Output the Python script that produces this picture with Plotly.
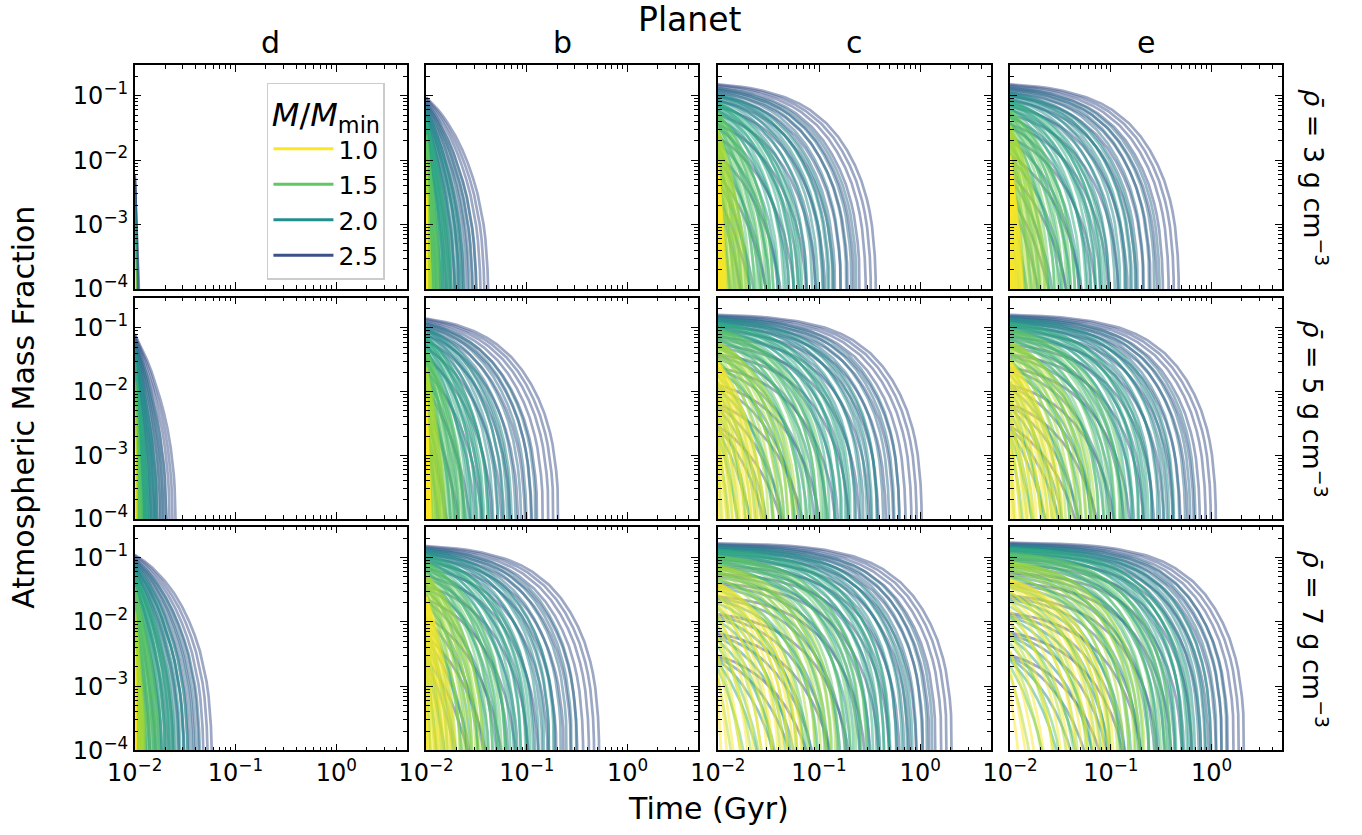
import plotly.graph_objects as go
from plotly.subplots import make_subplots
from plotly.colors import sample_colorscale

# ---------------- data ----------------
PLANETS = ["d", "b", "c", "e"]
DENSITIES = [3, 5, 7]
MASS_RATIOS = [1.0, 1.25, 1.5, 1.75, 2.0, 2.25, 2.5]
LEGEND_MASSES = [1.0, 1.5, 2.0, 2.5]
T_START = 0.01  # Gyr, left edge of every curve

X_TICKS = [0.01, 0.1, 1]
X_TICK_TEXT = ["10<sup>\u22122</sup>", "10<sup>\u22121</sup>", "10<sup>0</sup>"]
Y_TICKS = [1e-4, 1e-3, 1e-2, 1e-1]
Y_TICK_TEXT = ["10<sup>\u22124</sup>", "10<sup>\u22123</sup>", "10<sup>\u22122</sup>",
               "10<sup>\u22121</sup>"]

# normalised decay profile (rho=3, c)
PROFILE_TAU = [0, 0.001, 0.002, 0.005, 0.01, 0.02, 0.03, 0.05, 0.1, 0.15, 0.2,
               0.3, 0.4, 0.5, 0.6, 0.7, 0.8, 0.85, 0.9, 0.93, 0.96, 0.98, 0.99, 1.0]
PROFILE_FRAC = [1.0, 0.995, 0.991, 0.977, 0.955, 0.913, 0.872, 0.796, 0.632, 0.502, 0.398,
                0.250, 0.155, 0.094, 0.056, 0.032, 0.0162, 0.0107, 0.0063, 0.0040, 0.0022,
                0.0010, 0.0005, 0.00001]

# each mass gives a fan of curves: relative start fraction and relative lifetime
FAN_START = [1.00, 0.97, 0.93, 0.88, 0.82, 0.75, 0.66, 0.56, 0.45, 0.34, 0.24,
             0.15, 0.08, 0.04, 0.018]
FAN_LIFE = [1.00, 0.89, 0.79, 0.69, 0.60, 0.52, 0.44, 0.37, 0.30, 0.24, 0.19,
            0.14, 0.10, 0.07, 0.045]

# per panel: lifetime of outermost curve (Gyr) and top start fraction, per mass ratio
LIFE_3_d = [0.0101, 0.0102, 0.0103, 0.0105, 0.0107, 0.0110, 0.0113]
FTOP_3_d = [0.0002, 0.0003, 0.0005, 0.0010, 0.0018, 0.0032, 0.0060]
LIFE_3_b = [0.0104, 0.0115, 0.014, 0.018, 0.024, 0.032, 0.042]
FTOP_3_b = [0.003, 0.010, 0.025, 0.045, 0.062, 0.080, 0.095]
LIFE_3_c = [0.0125, 0.020, 0.036, 0.070, 0.14, 0.24, 0.37]
FTOP_3_c = [0.010, 0.030, 0.055, 0.080, 0.105, 0.130, 0.150]
LIFE_3_e = [0.014, 0.024, 0.045, 0.09, 0.18, 0.31, 0.48]
FTOP_3_e = [0.012, 0.035, 0.060, 0.085, 0.110, 0.135, 0.150]

LIFE_5_d = [0.0102, 0.0108, 0.012, 0.014, 0.017, 0.021, 0.026]
FTOP_5_d = [0.002, 0.006, 0.015, 0.030, 0.048, 0.065, 0.080]
LIFE_5_b = [0.0115, 0.016, 0.025, 0.042, 0.072, 0.125, 0.21]
FTOP_5_b = [0.008, 0.025, 0.045, 0.075, 0.100, 0.120, 0.140]
LIFE_5_c = [0.030, 0.062, 0.12, 0.21, 0.38, 0.63, 1.05]
FTOP_5_c = [0.030, 0.060, 0.095, 0.120, 0.140, 0.150, 0.160]
LIFE_5_e = [0.035, 0.072, 0.14, 0.24, 0.43, 0.70, 1.12]
FTOP_5_e = [0.030, 0.060, 0.095, 0.120, 0.140, 0.150, 0.160]

LIFE_7_d = [0.0104, 0.013, 0.018, 0.025, 0.034, 0.045, 0.059]
FTOP_7_d = [0.004, 0.015, 0.035, 0.058, 0.078, 0.095, 0.110]
LIFE_7_b = [0.020, 0.038, 0.063, 0.11, 0.19, 0.32, 0.53]
FTOP_7_b = [0.025, 0.055, 0.085, 0.110, 0.130, 0.140, 0.150]
LIFE_7_c = [0.070, 0.15, 0.30, 0.50, 0.85, 1.35, 2.10]
FTOP_7_c = [0.040, 0.075, 0.105, 0.130, 0.145, 0.155, 0.165]
LIFE_7_e = [0.11, 0.22, 0.40, 0.65, 1.00, 1.45, 2.15]
FTOP_7_e = [0.045, 0.085, 0.115, 0.140, 0.150, 0.160, 0.170]

PANEL_LIFE = {
    (3, "d"): LIFE_3_d, (3, "b"): LIFE_3_b, (3, "c"): LIFE_3_c, (3, "e"): LIFE_3_e,
    (5, "d"): LIFE_5_d, (5, "b"): LIFE_5_b, (5, "c"): LIFE_5_c, (5, "e"): LIFE_5_e,
    (7, "d"): LIFE_7_d, (7, "b"): LIFE_7_b, (7, "c"): LIFE_7_c, (7, "e"): LIFE_7_e,
}
PANEL_FTOP = {
    (3, "d"): FTOP_3_d, (3, "b"): FTOP_3_b, (3, "c"): FTOP_3_c, (3, "e"): FTOP_3_e,
    (5, "d"): FTOP_5_d, (5, "b"): FTOP_5_b, (5, "c"): FTOP_5_c, (5, "e"): FTOP_5_e,
    (7, "d"): FTOP_7_d, (7, "b"): FTOP_7_b, (7, "c"): FTOP_7_c, (7, "e"): FTOP_7_e,
}

# ---------------- styling ----------------
FONT = "DejaVu Sans"
X_DOMAINS = [(0.0989, 0.2986), (0.3128, 0.5125), (0.5270, 0.7276), (0.7416, 0.9413)]
Y_DOMAINS = [(0.6539, 0.9222), (0.3784, 0.6437), (0.1012, 0.3692)]


def mass_color(m, alpha):
    v = 1.0 - (m - 1.0) / 1.5 * 0.75
    rgb = sample_colorscale("Viridis", [v])[0]
    r, g, b = [float(c) for c in rgb[rgb.index("(") + 1:rgb.index(")")].split(",")]
    return f"rgba({int(r)},{int(g)},{int(b)},{alpha})"


fig = make_subplots(rows=3, cols=4)

for ri, rho in enumerate(DENSITIES):
    for ci, planet in enumerate(PLANETS):
        lives = PANEL_LIFE[(rho, planet)]
        ftops = PANEL_FTOP[(rho, planet)]
        # heaviest first, so lighter (yellow / green) curves sit on top
        for mi in reversed(range(len(MASS_RATIOS))):
            col = mass_color(MASS_RATIOS[mi], 0.5)
            for fs, fl in zip(FAN_START, FAN_LIFE):
                f0 = ftops[mi] * fs
                span = (lives[mi] - T_START) * fl
                xs = [T_START + tau * span for tau in PROFILE_TAU]
                ys = [f0 * g for g in PROFILE_FRAC]
                fig.add_trace(
                    go.Scatter(x=xs, y=ys, mode="lines",
                               line=dict(color=col, width=2.7),
                               showlegend=False, hoverinfo="skip"),
                    row=ri + 1, col=ci + 1)

# legend entries
for m in LEGEND_MASSES:
    fig.add_trace(
        go.Scatter(x=[1e-3, 1.1e-3], y=[1e-6, 1e-6], mode="lines",
                   line=dict(color=mass_color(m, 1.0), width=3),
                   name=f"{m:.1f}", showlegend=True, legendgroup=f"{m}",
                   hoverinfo="skip"),
        row=1, col=1)

axis_common = dict(
    type="log", showgrid=False, zeroline=False, automargin=False,
    showline=True, linecolor="black", linewidth=1.5, mirror="allticks",
    ticks="inside", ticklen=7, tickwidth=1.2, tickcolor="black",
    tickfont=dict(family=FONT, size=24, color="black"),
    minor=dict(ticks="inside", ticklen=4, tickwidth=1, tickcolor="black",
               dtick="D1", showgrid=False),
)

for ri in range(3):
    for ci in range(4):
        idx = ri * 4 + ci + 1
        xa = "xaxis" if idx == 1 else f"xaxis{idx}"
        ya = "yaxis" if idx == 1 else f"yaxis{idx}"
        fig.layout[xa].update(axis_common)
        fig.layout[ya].update(axis_common)
        fig.layout[xa].update(domain=list(X_DOMAINS[ci]), range=[-2, 0.699],
                              showticklabels=(ri == 2), tickvals=X_TICKS,
                              ticktext=X_TICK_TEXT)
        fig.layout[ya].update(domain=list(Y_DOMAINS[ri]), range=[-4, -0.523],
                              showticklabels=(ci == 0), tickvals=Y_TICKS,
                              ticktext=Y_TICK_TEXT)

annotations = []
# suptitle
annotations.append(dict(text="Planet", x=0.5065, y=0.977, xref="paper", yref="paper",
                        showarrow=False, font=dict(family=FONT, size=33, color="black"),
                        xanchor="center", yanchor="middle"))
# column titles
for ci, planet in enumerate(PLANETS):
    xc = (X_DOMAINS[ci][0] + X_DOMAINS[ci][1]) / 2
    annotations.append(dict(text=planet, x=xc, y=0.9497, xref="paper", yref="paper",
                            showarrow=False, font=dict(family=FONT, size=30, color="black"),
                            xanchor="center", yanchor="middle"))
# row labels
for ri, rho in enumerate(DENSITIES):
    yc = (Y_DOMAINS[ri][0] + Y_DOMAINS[ri][1]) / 2
    annotations.append(dict(text=f"<i>\u03c1\u0304</i> = {rho} g cm<sup>\u22123</sup>",
                            x=0.9655, y=yc, xref="paper", yref="paper", textangle=90,
                            showarrow=False, font=dict(family=FONT, size=27, color="black"),
                            xanchor="center", yanchor="middle"))
# axis titles
annotations.append(dict(text="Time (Gyr)", x=0.520, y=0.032, xref="paper", yref="paper",
                        showarrow=False, font=dict(family=FONT, size=30, color="black"),
                        xanchor="center", yanchor="middle"))
annotations.append(dict(text="Atmospheric Mass Fraction", x=0.017, y=0.512, xref="paper",
                        yref="paper", textangle=-90, showarrow=False,
                        font=dict(family=FONT, size=30, color="black"),
                        xanchor="center", yanchor="middle"))

fig.update_layout(
    width=1362, height=835,
    margin=dict(l=0, r=0, t=0, b=0),
    plot_bgcolor="white", paper_bgcolor="white",
    annotations=annotations,
    legend=dict(
        x=0.196, y=0.9006, xanchor="left", yanchor="top",
        bgcolor="rgba(255,255,255,0.85)", bordercolor="#cccccc", borderwidth=1.5,
        font=dict(family=FONT, size=25, color="black"),
        title=dict(text="<i>M</i>/<i>M</i><sub>min</sub>", side="top center",
                   font=dict(family=FONT, size=32, color="black")),
        tracegroupgap=0, itemwidth=60,
    ),
    font=dict(family=FONT),
)

fig.write_html("out.html",
               config={"displayModeBar": False},
               post_script="document.body.style.margin='0';"
                           "document.body.style.padding='0';")
